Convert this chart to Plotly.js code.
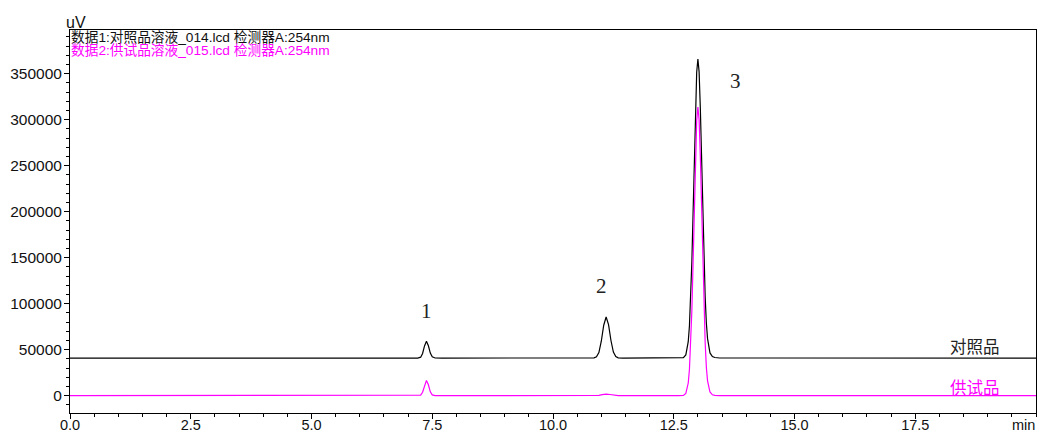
<!DOCTYPE html>
<html>
<head>
<meta charset="utf-8">
<script src="https://cdn.plot.ly/plotly-3.0.1.min.js"></script>
<style>
  html, body { margin: 0; padding: 0; background: #fff; }
  #chart { width: 1038px; height: 435px; }
</style>
</head>
<body>
<div id="chart"></div>
<script>
// Reference chromatogram (对照品) — retention time (min) and signal (uV)
const refTime = [0, 7.2, 7.26, 7.30, 7.34, 7.38, 7.42, 7.46, 7.50, 7.56, 7.7,
  10.8, 10.85, 10.9, 10.95, 11.0, 11.05, 11.1, 11.15, 11.2, 11.25, 11.3, 11.35, 11.45,
  12.6, 12.65, 12.7, 12.75, 12.8, 12.825, 12.85, 12.875, 12.9, 12.925, 12.95, 12.975, 13.0,
  13.025, 13.05, 13.075, 13.1, 13.125, 13.15, 13.175, 13.2, 13.25, 13.3, 13.35, 13.45, 20];
const refSignal = [40900, 40900, 41900, 45900, 54100, 59100, 54300, 46300, 42300, 41000, 40900,
  40900, 41100, 42200, 46900, 59200, 76600, 85500, 77200, 60000, 47500, 42600, 41200, 40900,
  40900, 40950, 41400, 44400, 58700, 76100, 104300, 145500, 198200, 257000, 311900, 351500, 366000,
  352000, 313500, 259500, 201500, 149000, 108000, 79000, 62000, 46500, 42500, 41500, 41000, 40900];

// Sample chromatogram (供试品)
const sampleTime = [0, 7.2, 7.26, 7.30, 7.34, 7.38, 7.42, 7.46, 7.50, 7.56, 7.7,
  10.85, 10.95, 11.02, 11.1, 11.18, 11.26, 11.35,
  12.6, 12.65, 12.7, 12.75, 12.8, 12.825, 12.85, 12.875, 12.9, 12.925, 12.95, 12.975, 13.0,
  13.025, 13.05, 13.075, 13.1, 13.125, 13.15, 13.175, 13.2, 13.25, 13.3, 13.35, 13.45, 20];
const sampleSignal = [0, 0, 600, 3700, 11500, 16600, 11900, 4200, 900, 100, 0,
  0, 400, 1200, 1800, 1300, 500, 0,
  0, 0, 280, 2400, 13800, 28700, 54100, 92600, 143800, 202300, 258300, 298900, 313800,
  300000, 261000, 206000, 148000, 97000, 58000, 31000, 16000, 4000, 1000, 300, 0, 0];

const peakLabels = ['1', '2', '3'];
const peakLabelX = [7.38, 11.01, 13.77];
const peakLabelY = [92200, 119300, 341600];

const xTickVals = [0, 2.5, 5, 7.5, 10, 12.5, 15, 17.5];
const yTickVals = [0, 50000, 100000, 150000, 200000, 250000, 300000, 350000];

const header1 = '数据1:对照品溶液_014.lcd 检测器A:254nm';
const header2 = '数据2:供试品溶液_015.lcd 检测器A:254nm';
const traceName1 = '对照品';
const traceName2 = '供试品';

const BLACK = '#000000';
const PINK = '#ff00ff';
const latin = 'Liberation Sans, Arial, Noto Sans CJK SC, sans-serif';

const traces = [
  { x: refTime, y: refSignal, type: 'scatter', mode: 'lines', name: traceName1,
    line: { color: BLACK, width: 1.2 }, hoverinfo: 'skip' },
  { x: sampleTime, y: sampleSignal, type: 'scatter', mode: 'lines', name: traceName2,
    line: { color: PINK, width: 1.2 }, hoverinfo: 'skip' }
];

const annotations = [];
peakLabels.forEach((t, i) => {
  annotations.push({ x: peakLabelX[i], y: peakLabelY[i], xref: 'x', yref: 'y', text: t,
    showarrow: false, font: { family: 'Liberation Serif, Times New Roman, serif', size: 21, color: '#222' } });
});
annotations.push({ x: 18.74, y: 53500, xref: 'x', yref: 'y', text: traceName1, showarrow: false,
  font: { family: 'Noto Sans CJK SC, sans-serif', size: 16.5, color: '#222' } });
annotations.push({ x: 18.74, y: 9200, xref: 'x', yref: 'y', text: traceName2, showarrow: false,
  font: { family: 'Noto Sans CJK SC, sans-serif', size: 16.5, color: PINK } });
annotations.push({ x: 0, y: 1, xref: 'paper', yref: 'paper', xanchor: 'left', yanchor: 'top',
  text: header1, showarrow: false, borderpad: 0, yshift: 1,
  font: { family: latin, size: 13.7, color: '#111' } });
annotations.push({ x: 0, y: 1, xref: 'paper', yref: 'paper', xanchor: 'left', yanchor: 'top',
  text: header2, showarrow: false, borderpad: 0, yshift: -12,
  font: { family: latin, size: 13.7, color: PINK } });
annotations.push({ x: 0, y: 1, xref: 'paper', yref: 'paper', xanchor: 'left', yanchor: 'bottom',
  text: 'uV', showarrow: false, xshift: -6, yshift: -3,
  font: { family: latin, size: 16, color: '#111' } });
annotations.push({ x: 1, y: 0, xref: 'paper', yref: 'paper', xanchor: 'right', yanchor: 'top',
  text: 'min', showarrow: false, yshift: -2, xshift: 1,
  font: { family: latin, size: 14.5, color: '#111' } });

const layout = {
  width: 1038, height: 435,
  margin: { l: 70, r: 2, t: 30, b: 22 },
  paper_bgcolor: '#fff', plot_bgcolor: '#fff',
  showlegend: false,
  font: { family: latin, size: 15.5, color: '#111' },
  xaxis: {
    range: [0, 20], tickvals: xTickVals, ticktext: xTickVals.map(v => v.toFixed(1)),
    ticks: 'outside', ticklen: 5, tickwidth: 1, tickcolor: '#000',
    ticklabelstandoff: -6,
    minor: { dtick: 0.5, tick0: 0, ticks: 'outside', ticklen: 3, tickcolor: '#000', showgrid: false },
    showline: true, linecolor: '#000', linewidth: 1, mirror: true,
    showgrid: false, zeroline: false, tickfont: { size: 14.5, color: '#111' }
  },
  yaxis: {
    range: [-18800, 397500], tickvals: yTickVals, ticktext: yTickVals.map(v => String(v)),
    ticks: 'outside', ticklen: 5, tickwidth: 1, tickcolor: '#000',
    ticklabelstandoff: -1,
    minor: { dtick: 10000, tick0: 0, ticks: 'outside', ticklen: 3, tickcolor: '#000', showgrid: false },
    showline: true, linecolor: '#000', linewidth: 1, mirror: true,
    showgrid: false, zeroline: false, tickfont: { size: 15.5, color: '#111' }
  },
  annotations: annotations
};

Plotly.newPlot('chart', traces, layout, { staticPlot: true, displayModeBar: false });
</script>
</body>
</html>
